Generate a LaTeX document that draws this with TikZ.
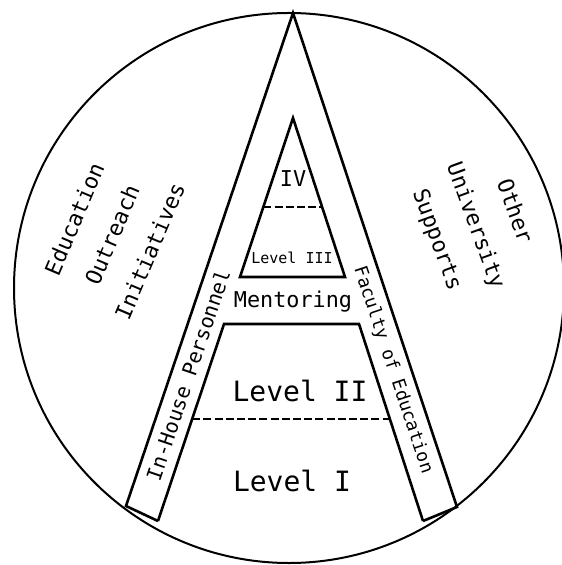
\documentclass[tikz,border=0pt]{standalone}
\usepackage{fontspec}
\setmonofont{DejaVu Sans Mono}
\usepackage{tikz}
\usetikzlibrary{calc}
\tikzset{
  rim/.style   ={draw=black, line width=1pt},
  edge/.style  ={draw=black, line width=1.3pt, line join=miter},
  rung/.style  ={draw=black, line width=1.1pt, dash pattern=on 4pt off 1.6pt},
  lvl/.style   ={anchor=base, inner sep=0pt, font=\ttfamily\fontsize{14}{16}\selectfont},
  mid/.style   ={anchor=base, inner sep=0pt, font=\ttfamily\fontsize{10.9}{13}\selectfont},
  tiny/.style  ={anchor=base, inner sep=0pt, font=\ttfamily\fontsize{7.5}{9}\selectfont},
  leg/.style   ={inner sep=0pt, font=\ttfamily\fontsize{10.2}{12}\selectfont},
  side/.style  ={inner sep=0pt, align=center, font=\ttfamily\fontsize{11}{20.5}\selectfont}
}
\begin{document}
\begin{tikzpicture}[x=0.5pt, y=-0.5pt]
\useasboundingbox (0,0) rectangle (561,565);
% outer circle
\draw[rim] (289,288) circle [radius=275];
% the letter A
\coordinate (apex) at (293,13);
\coordinate (lo) at (126,506);
\coordinate (li) at (158,521);
\coordinate (ro) at (457,507);
\coordinate (ri) at (423,521);
\coordinate (tl) at (224,324);
\coordinate (tr) at (359,324);
\coordinate (top) at (293,118);
\coordinate (bl) at (240,277);
\coordinate (br) at (345,277);
\draw[edge] (li) -- (lo) -- (apex) -- (ro) -- (ri);
\draw[edge] (li) -- (tl) -- (tr) -- (ri);
\draw[edge] (bl) -- (top) -- (br) -- cycle;
\draw[rung] ($(bl)!0.44!(top)$) -- ($(br)!0.44!(top)$);
\draw[rung] ($(tl)!0.482!(li)$) -- ($(tr)!0.482!(ri)$);
% levels
\node[lvl] (lvI) at (292,491) {Level I};
\node[lvl] (lvII) at (300,401) {Level II};
\node[mid] (ment) at (293,308) {Mentoring};
\node[tiny] (lvIII) at (292,264) {Level III};
\node[mid] (lvIV) at (293,187) {IV};
% legs
\node[leg, rotate=71.3] (inhouse) at (188,375) {In-House Personnel};
\node[leg, rotate=-71.6, font=\ttfamily\fontsize{9}{11}\selectfont] (faculty) at (393,370) {Faculty of Education};
% sides
\node[side, rotate=67] (outreach) at (112,235) {Education\\Outreach\\Initiatives};
\node[side, rotate=-70] (univ) at (475,226) {Other\\University\\Supports};
\end{tikzpicture}
\end{document}
